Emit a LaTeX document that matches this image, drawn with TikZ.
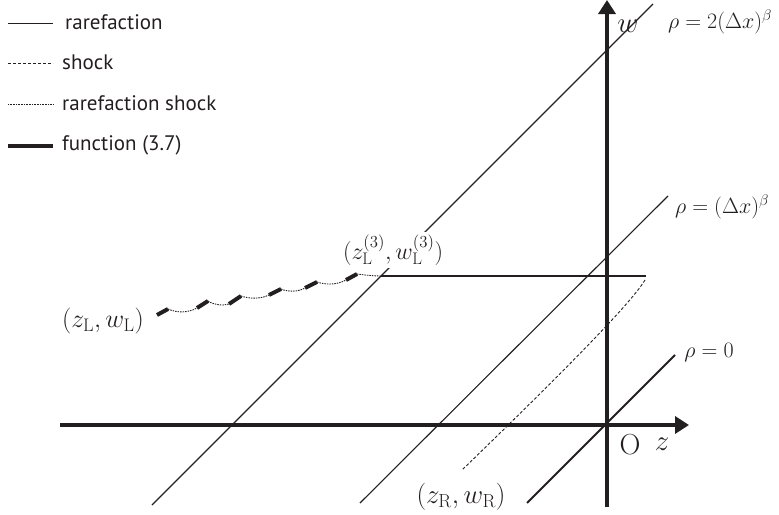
\RequirePackage{fix-cm}
\documentclass[tikz,border=0pt]{standalone}
\usepackage{fontspec}
\newfontfamily\legendfont{PT Sans}
\usetikzlibrary{arrows.meta}
\definecolor{ink}{HTML}{231F20}
\tikzset{
  axis/.style={line width=4pt, draw=ink, -{Triangle[length=14pt,width=17pt]}},
  thinline/.style={line width=1pt, draw=ink},
  rholine/.style={line width=1.1pt, draw=ink},
  rhozero/.style={line width=2pt, draw=ink},
  flatline/.style={line width=1.4pt, draw=ink},
  shockline/.style={line width=0.9pt, draw=ink, dash pattern=on 3pt off 2pt},
  rsline/.style={line width=0.9pt, draw=ink, dash pattern=on 1.5pt off 1pt},
  legdot/.style={line width=0.8pt, draw=ink, dash pattern=on 0.8pt off 0.8pt},
  funcseg/.style={line width=4pt, draw=ink, line cap=butt},
  legtext/.style={anchor=west, inner sep=0pt, font=\legendfont\fontsize{21}{24}\selectfont, text=ink},
  mlabel/.style={inner sep=0pt, font=\fontsize{26}{30}\selectfont, text=ink},
  rlabel/.style={inner sep=0pt, font=\fontsize{22}{26}\selectfont, text=ink},
  biglabel/.style={inner sep=0pt, font=\fontsize{29}{33}\selectfont, text=ink}
}
\begin{document}
\begin{tikzpicture}[x=1pt,y=-1pt]
\useasboundingbox (0,0) rectangle (779,514);

% legend
\coordinate (l1a) at (8,23);  \coordinate (l1b) at (53,23);
\coordinate (l2a) at (8,63);  \coordinate (l2b) at (53,63);
\coordinate (l3a) at (8,104); \coordinate (l3b) at (53,104);
\coordinate (l4a) at (8,146); \coordinate (l4b) at (53,146);
\draw[thinline] (l1a) -- (l1b);
\draw[shockline] (l2a) -- (l2b);
\draw[legdot] (l3a) -- (l3b);
\draw[line width=3.5pt, draw=ink] (l4a) -- (l4b);
\node[legtext] (t1) at (65,22) {rarefaction};
\node[legtext] (t2) at (62,62) {shock};
\node[legtext] (t3) at (62,103) {rarefaction shock};
\node[legtext] (t4) at (62,145) {function (3.7)};

% rho lines
\coordinate (r2a) at (152,505); \coordinate (r2b) at (653,4);
\coordinate (r1a) at (360,503); \coordinate (r1b) at (668,196);
\coordinate (r0a) at (527,503); \coordinate (r0b) at (675,355);
\draw[rholine] (r2a) -- (r2b);
\draw[rholine] (r1a) -- (r1b);
\draw[rhozero] (r0a) -- (r0b);

% horizontal rarefaction
\coordinate (hc) at (381,276); \coordinate (he) at (646,276);
\draw[flatline] (hc) -- (he);

% shock curve
\coordinate (sa) at (645,280); \coordinate (sb) at (462,470);
\draw[shockline] (sa) .. controls (630,305) and (555,380) .. (sb);

% axes
\coordinate (zl) at (60,425); \coordinate (zr) at (689,425);
\coordinate (wb) at (607,507); \coordinate (wt) at (607,0);
\draw[axis] (zl) -- (zr);
\draw[axis] (wb) -- (wt);

% function (3.7) + rarefaction shocks
\coordinate (a1) at (157,315); \coordinate (b1) at (168,309);
\coordinate (a2) at (197,308); \coordinate (b2) at (208,301);
\coordinate (a3) at (229,304); \coordinate (b3) at (241,296);
\coordinate (a4) at (269,295); \coordinate (b4) at (281,289);
\coordinate (a5) at (305,288); \coordinate (b5) at (317,282);
\coordinate (a6) at (346,280); \coordinate (b6) at (357,274);
\foreach \i in {1,...,6} { \draw[funcseg] (a\i) -- (b\i); }
\draw[rsline] (b1) .. controls +(9,4) and +(-9,5) .. (a2);
\draw[rsline] (b2) .. controls +(6,4) and +(-6,2) .. (a3);
\draw[rsline] (b3) .. controls +(9,3) and +(-8,4) .. (a4);
\draw[rsline] (b4) .. controls +(7,3) and +(-7,4) .. (a5);
\draw[rsline] (b5) .. controls +(9,3) and +(-9,5) .. (a6);
\draw[rsline] (b6) .. controls +(7,1) and +(-7,0) .. (hc);

% labels
\node[rlabel] (lr2) at (720,22) {$\rho = 2(\Delta x)^\beta$};
\node[rlabel] (lr1) at (722,207) {$\rho = (\Delta x)^\beta$};
\node[rlabel] (lr0) at (709,353) {$\rho = 0$};
\node[biglabel] (lw) at (628,26) {$w$};
\node[biglabel] (lO) at (630,445) {O};
\node[biglabel] (lz) at (662,444) {$z$};
\node[mlabel] (lL) at (103,321) {$(z_{\mathrm{L}}, w_{\mathrm{L}})$};
\node[inner xsep=1pt, inner ysep=2.5pt, fill=white, font=\fontsize{24}{28}\selectfont, text=ink] (lL3) at (393,250) {$(z_{\mathrm{L}}^{(3)}, w_{\mathrm{L}}^{(3)})$};
\node[inner sep=0pt, font=\fontsize{27}{31}\selectfont, text=ink] (lR) at (461,497) {$(z_{\mathrm{R}}, w_{\mathrm{R}})$};
\end{tikzpicture}
\end{document}
